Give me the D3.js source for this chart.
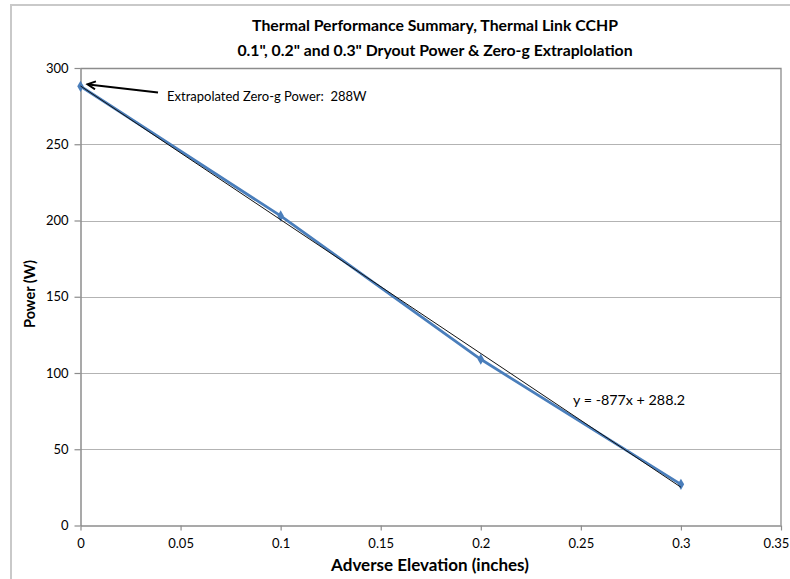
<!DOCTYPE html>
<html>
<head>
<meta charset="utf-8">
<script src="https://cdn.jsdelivr.net/npm/d3@7"></script>
<style>
  html, body { margin: 0; padding: 0; background: #fff; }
  svg { display: block; }
  text { font-family: Lato, "Open Sans", sans-serif; fill: #000; white-space: pre; }
</style>
</head>
<body>
<svg id="chart" width="790" height="579"></svg>
<script>
// Dryout power measured at each adverse elevation
const elevations = [0, 0.1, 0.2, 0.3];
const powers = [288, 203, 109, 27];

// Linear trendline fitted to the dryout points
const trendSlope = -877;
const trendIntercept = 288.2;

const xTicks = [0, 0.05, 0.1, 0.15, 0.2, 0.25, 0.3, 0.35];
const yTicks = [0, 50, 100, 150, 200, 250, 300];

const titleLines = [
  "Thermal Performance Summary, Thermal Link CCHP",
  "0.1\", 0.2\" and 0.3\" Dryout Power & Zero-g Extraplolation"
];
const xTitle = "Adverse Elevation (inches)";
const yTitle = "Power (W)";
const zeroGNote = "Extrapolated Zero-g Power:  288W";
const equationNote = `y = ${trendSlope}x + ${trendIntercept}`;

const FONT = "Lato, 'Open Sans', sans-serif";
const svg = d3.select("#chart");

// outer chart frame
svg.append("path")
  .attr("d", "M11,579 V5 H790")
  .attr("fill", "none")
  .attr("stroke", "#c9c9c9")
  .attr("stroke-width", 2);

const plot = { left: 80.5, right: 781, top: 68, bottom: 525.5 };

const x = d3.scaleLinear().domain([0, 0.35]).range([plot.left, plot.right]);
const y = d3.scaleLinear().domain([0, 300]).range([plot.bottom, plot.top]);

// horizontal gridlines
svg.append("g")
  .selectAll("line")
  .data(yTicks.filter(v => v > 0))
  .join("line")
  .attr("x1", plot.left).attr("x2", plot.right)
  .attr("y1", d => Math.round(y(d)) + 0.5).attr("y2", d => Math.round(y(d)) + 0.5)
  .attr("stroke", "#b3b3b3")
  .attr("stroke-width", 1.2);

// plot area border (top and right)
svg.append("path")
  .attr("d", `M${plot.left},${Math.round(plot.top) + 0.5} H${plot.right} V${plot.bottom}`)
  .attr("fill", "none")
  .attr("stroke", "#8c8c8c")
  .attr("stroke-width", 1.3);

// axes
const xAxis = d3.axisBottom(x).tickValues(xTicks).tickFormat(d => String(+d.toFixed(2)))
  .tickSizeInner(5).tickSizeOuter(0).tickPadding(8);
const yAxis = d3.axisLeft(y).tickValues(yTicks).tickFormat(d3.format("d"))
  .tickSizeInner(6).tickSizeOuter(0).tickPadding(6);

const gx = svg.append("g").attr("transform", `translate(0,${plot.bottom})`).call(xAxis);
const gy = svg.append("g").attr("transform", `translate(${plot.left},0)`).call(yAxis);

[gx, gy].forEach(g => {
  g.selectAll(".domain").attr("stroke", "#8c8c8c").attr("stroke-width", 1.5);
  g.selectAll(".tick line").attr("stroke", "#8c8c8c").attr("stroke-width", 1.2);
  g.selectAll(".tick text")
    .style("font-family", FONT)
    .style("font-size", "13px")
    .attr("fill", "#000");
});
// keep the last x label inside the right edge of the chart
gx.selectAll(".tick text").filter(d => d === 0.35).attr("text-anchor", "end").attr("dx", "0.6em");

// measured series
const line = d3.line().x((d, i) => x(elevations[i])).y(d => y(d));
svg.append("path")
  .datum(powers)
  .attr("d", line)
  .attr("fill", "none")
  .attr("stroke", "#4a7ebb")
  .attr("stroke-width", 2.8)
  .attr("stroke-linejoin", "round");

svg.append("g")
  .selectAll("path")
  .data(powers)
  .join("path")
  .attr("d", d3.symbol().type(d3.symbolDiamond).size(36))
  .attr("transform", (d, i) => `translate(${x(elevations[i])},${y(d)})`)
  .attr("fill", "#4a7ebb");

// linear trendline over the measured range
const trendX = d3.extent(elevations);
svg.append("line")
  .attr("x1", x(trendX[0])).attr("y1", y(trendSlope * trendX[0] + trendIntercept))
  .attr("x2", x(trendX[1])).attr("y2", y(trendSlope * trendX[1] + trendIntercept))
  .attr("stroke", "#111")
  .attr("stroke-width", 1);

// arrow pointing to the zero-g intercept
svg.append("defs").append("marker")
  .attr("id", "arrowhead")
  .attr("viewBox", "0 0 10 10")
  .attr("refX", 8).attr("refY", 5)
  .attr("markerUnits", "userSpaceOnUse")
  .attr("markerWidth", 12).attr("markerHeight", 10)
  .attr("orient", "auto")
  .append("path")
  .attr("d", "M1,1 L9,5 L1,9")
  .attr("fill", "none")
  .attr("stroke", "#000")
  .attr("stroke-width", 2)
  .attr("stroke-linejoin", "miter");

svg.append("line")
  .attr("x1", 158).attr("y1", 92.5)
  .attr("x2", x(0) + 8).attr("y2", y(trendIntercept) - 1.5)
  .attr("stroke", "#000")
  .attr("stroke-width", 2)
  .attr("marker-end", "url(#arrowhead)");

svg.append("text")
  .attr("x", 167).attr("y", 101)
  .style("font-size", "13px")
  .text(zeroGNote);

svg.append("text")
  .attr("x", 573).attr("y", 405)
  .style("font-size", "14.3px")
  .text(equationNote);

// titles
svg.append("g")
  .selectAll("text")
  .data(titleLines)
  .join("text")
  .attr("x", 435)
  .attr("y", (d, i) => 31 + i * 25)
  .attr("text-anchor", "middle")
  .style("font-size", "15.8px")
  .style("font-weight", "bold")
  .text(d => d);

svg.append("text")
  .attr("x", 430).attr("y", 571)
  .attr("text-anchor", "middle")
  .style("font-size", "17px")
  .style("font-weight", "bold")
  .text(xTitle);

svg.append("text")
  .attr("transform", "translate(35,294) rotate(-90)")
  .attr("text-anchor", "middle")
  .style("font-size", "14.5px")
  .style("font-weight", "bold")
  .text(yTitle);
</script>
</body>
</html>
